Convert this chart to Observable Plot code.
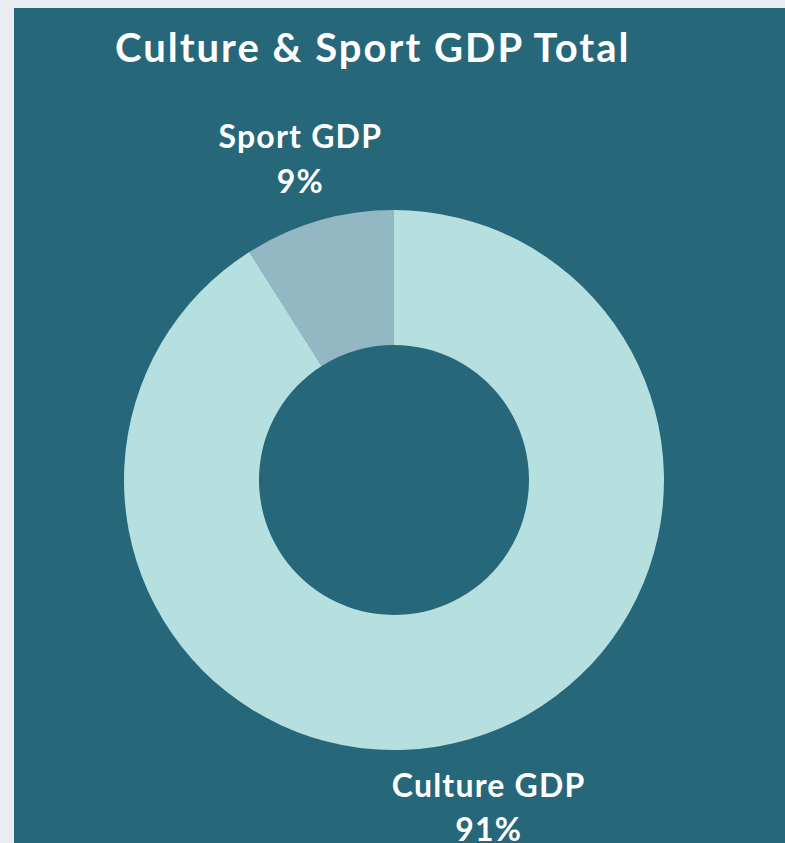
<!DOCTYPE html>
<html>
<head>
<meta charset="utf-8">
<script src="https://cdn.jsdelivr.net/npm/d3@7"></script>
<script src="https://cdn.jsdelivr.net/npm/@observablehq/plot@0.6"></script>
<style>
  html, body { margin: 0; padding: 0; background: #e9edf1; width: 785px; height: 843px; overflow: hidden; }
  #panel { position: absolute; left: 14px; top: 8px; width: 771px; height: 835px; background: #27677a; font-family: Lato, "Open Sans", sans-serif; }
  #title { height: 80px; box-sizing: border-box; padding-left: 101px; padding-top: 19px; font-size: 40px; font-weight: 700; color: #ffffff; line-height: 1; white-space: nowrap; letter-spacing: 2px; }
  #chart svg { display: block; }
</style>
</head>
<body>
<div id="panel">
  <div id="title">Culture &amp; Sport GDP Total</div>
  <div id="chart"></div>
</div>
<script>
const categories = ["Sport GDP", "Culture GDP"];
const shares = [9, 91];
const sliceColors = ["#93b8c3", "#b6dfe0"];

const rows = categories.map((c, i) => ({category: c, share: shares[i]}));
const total = d3.sum(rows, d => d.share);
const start = -2 * Math.PI * rows[0].share / total;
const arcs = d3.pie().sort(null).value(d => d.share)
  .startAngle(start).endAngle(start + 2 * Math.PI)(rows);

const labelR = 1.25;
const labels = arcs.map(a => {
  const m = (a.startAngle + a.endAngle) / 2;
  return {x: labelR * Math.sin(m), y: labelR * Math.cos(m), text: `${a.data.category}\n${a.data.share}%`};
});

const color = Plot.scale({color: {type: "ordinal", domain: categories, range: sliceColors}});

const donut = (index, scales) => {
  const cx = scales.x(0), cy = scales.y(0);
  const R = scales.x(1) - cx;
  const arc = d3.arc().innerRadius(R * 0.5).outerRadius(R);
  const g = d3.create("svg:g").attr("transform", `translate(${cx},${cy})`);
  g.selectAll("path").data(arcs).join("path")
    .attr("d", arc)
    .attr("fill", d => color.apply(d.data.category));
  return g.node();
};

const plot = Plot.plot({
  width: 771,
  height: 755,
  marginLeft: 110,
  marginRight: 121,
  marginTop: 122,
  marginBottom: 93,
  x: {domain: [-1, 1], axis: null},
  y: {domain: [-1, 1], axis: null},
  style: {background: "transparent", fontFamily: "Lato, 'Open Sans', sans-serif", overflow: "visible", letterSpacing: "1.2px"},
  marks: [
    donut,
    Plot.text(labels, {x: "x", y: "y", text: "text", fill: "white", fontSize: 32, fontWeight: 700, lineHeight: 1.4, clip: false})
  ]
});
document.getElementById("chart").appendChild(plot);
</script>
</body>
</html>
